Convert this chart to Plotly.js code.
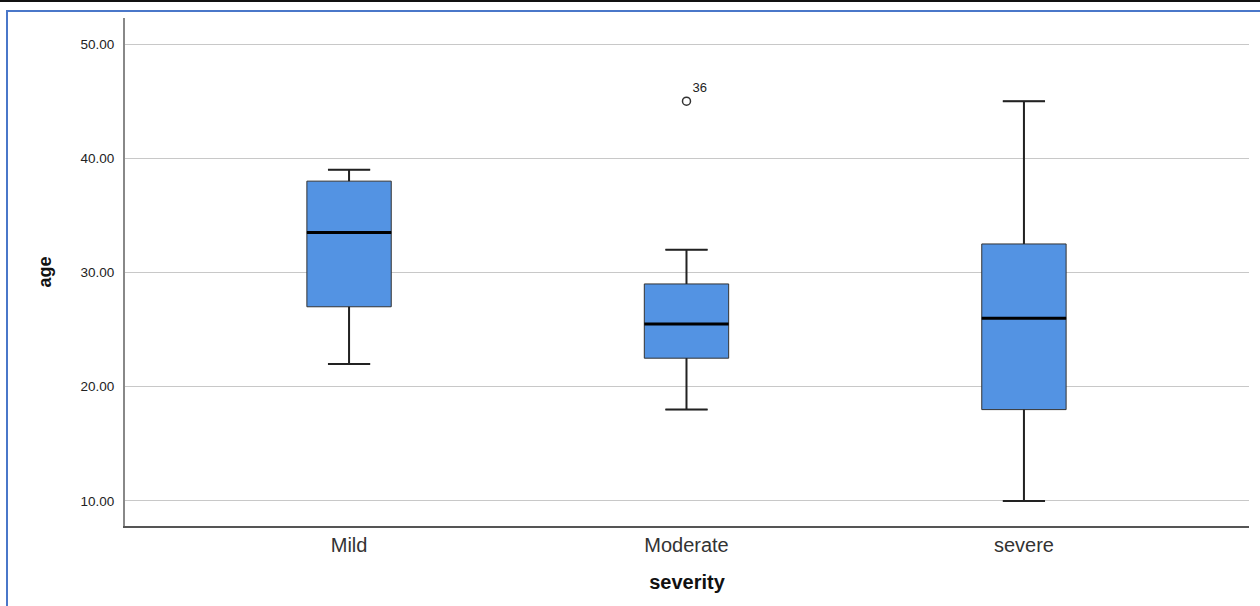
<!DOCTYPE html>
<html>
<head>
<meta charset="utf-8">
<script src="https://cdn.plot.ly/plotly-3.0.1.min.js"></script>
<style>
html,body{margin:0;padding:0;background:#fff;}
#wrap{position:relative;width:1260px;height:606px;overflow:hidden;}
#chart{position:absolute;left:0;top:0;width:1260px;height:606px;}
.ln{position:absolute;pointer-events:none;}
</style>
</head>
<body>
<div id="wrap">
<div id="chart"></div>
<div class="ln" style="left:0;top:0;width:1260px;height:2px;background:#111;"></div>
<div class="ln" style="left:6px;top:10px;width:1254px;height:2px;background:#4a77c9;"></div>
<div class="ln" style="left:6px;top:10px;width:2px;height:596px;background:#4a77c9;"></div>
</div>
<script>
const categories = ['Mild', 'Moderate', 'severe'];
const lowerWhisker = [22, 18, 10];
const q1 = [27, 22.5, 18];
const median = [33.5, 25.5, 26];
const q3 = [38, 29, 32.5];
const upperWhisker = [39, 32, 45];
const outlierCategory = ['Moderate'];
const outlierAge = [45];
const outlierLabel = ['36'];

const boxW = 0.25, capHalf = 0.0625;
const xs = categories.map((c, i) => i);

const traces = [];
traces.push({
  type: 'box', x: xs, q1: q1, median: median, q3: q3,
  lowerfence: lowerWhisker, upperfence: upperWhisker,
  width: boxW, whiskerwidth: 0.5, boxpoints: false,
  fillcolor: '#5393e3', line: {color: '#333', width: 1},
  hoverinfo: 'skip', showlegend: false
});
// thicker whiskers
const wx = [], wy = [];
xs.forEach((x, i) => {
  wx.push(x, x, null, x, x, null, x - capHalf, x + capHalf, null, x - capHalf, x + capHalf, null);
  wy.push(q3[i], upperWhisker[i], null, q1[i], lowerWhisker[i], null, upperWhisker[i], upperWhisker[i], null, lowerWhisker[i], lowerWhisker[i], null);
});
traces.push({type: 'scatter', mode: 'lines', x: wx, y: wy, line: {color: '#222', width: 2}, hoverinfo: 'skip', showlegend: false});
// thicker median
const mx = [], my = [];
xs.forEach((x, i) => { mx.push(x - boxW / 2, x + boxW / 2, null); my.push(median[i], median[i], null); });
traces.push({type: 'scatter', mode: 'lines', x: mx, y: my, line: {color: '#000', width: 3}, hoverinfo: 'skip', showlegend: false});
// outliers
traces.push({
  type: 'scatter', mode: 'markers+text',
  x: outlierCategory.map(c => categories.indexOf(c)), y: outlierAge,
  text: outlierLabel, textposition: 'top right',
  textfont: {family: 'Liberation Sans, Arial', size: 13, color: '#222'},
  marker: {symbol: 'circle-open', size: 8, color: '#333', line: {width: 1.5, color: '#333'}},
  hoverinfo: 'skip', showlegend: false, cliponaxis: false
});

const layout = {
  width: 1260, height: 606,
  margin: {l: 125, r: 11, t: 18, b: 80},
  paper_bgcolor: 'rgba(0,0,0,0)', plot_bgcolor: 'rgba(0,0,0,0)',
  font: {family: 'Liberation Sans, Arial, sans-serif', color: '#222'},
  showlegend: false,
  xaxis: {
    range: [-0.664, 2.667], tickvals: xs, ticktext: categories,
    showgrid: false, zeroline: false,
    showline: true, linecolor: '#555', linewidth: 1.5,
    ticks: '', 
    tickfont: {size: 20, color: '#333'},
    title: {text: '<b>severity</b>', font: {size: 20, color: '#111'}, standoff: 20}
  },
  yaxis: {
    range: [7.81, 52.28], tickvals: [10, 20, 30, 40, 50],
    ticktext: ['10.00', '20.00', '30.00', '40.00', '50.00'],
    showgrid: true, gridcolor: '#c8c8c8', gridwidth: 1, zeroline: false,
    showline: true, linecolor: '#888', linewidth: 2,
    ticks: 'outside', ticklen: 6, tickcolor: 'rgba(0,0,0,0)',
    tickfont: {size: 13.5, color: '#222'},
    title: {text: '<b>age</b>', font: {size: 18, color: '#111'}, standoff: 24}
  }
};
Plotly.newPlot('chart', traces, layout, {displayModeBar: false, staticPlot: true});
</script>
</body>
</html>
